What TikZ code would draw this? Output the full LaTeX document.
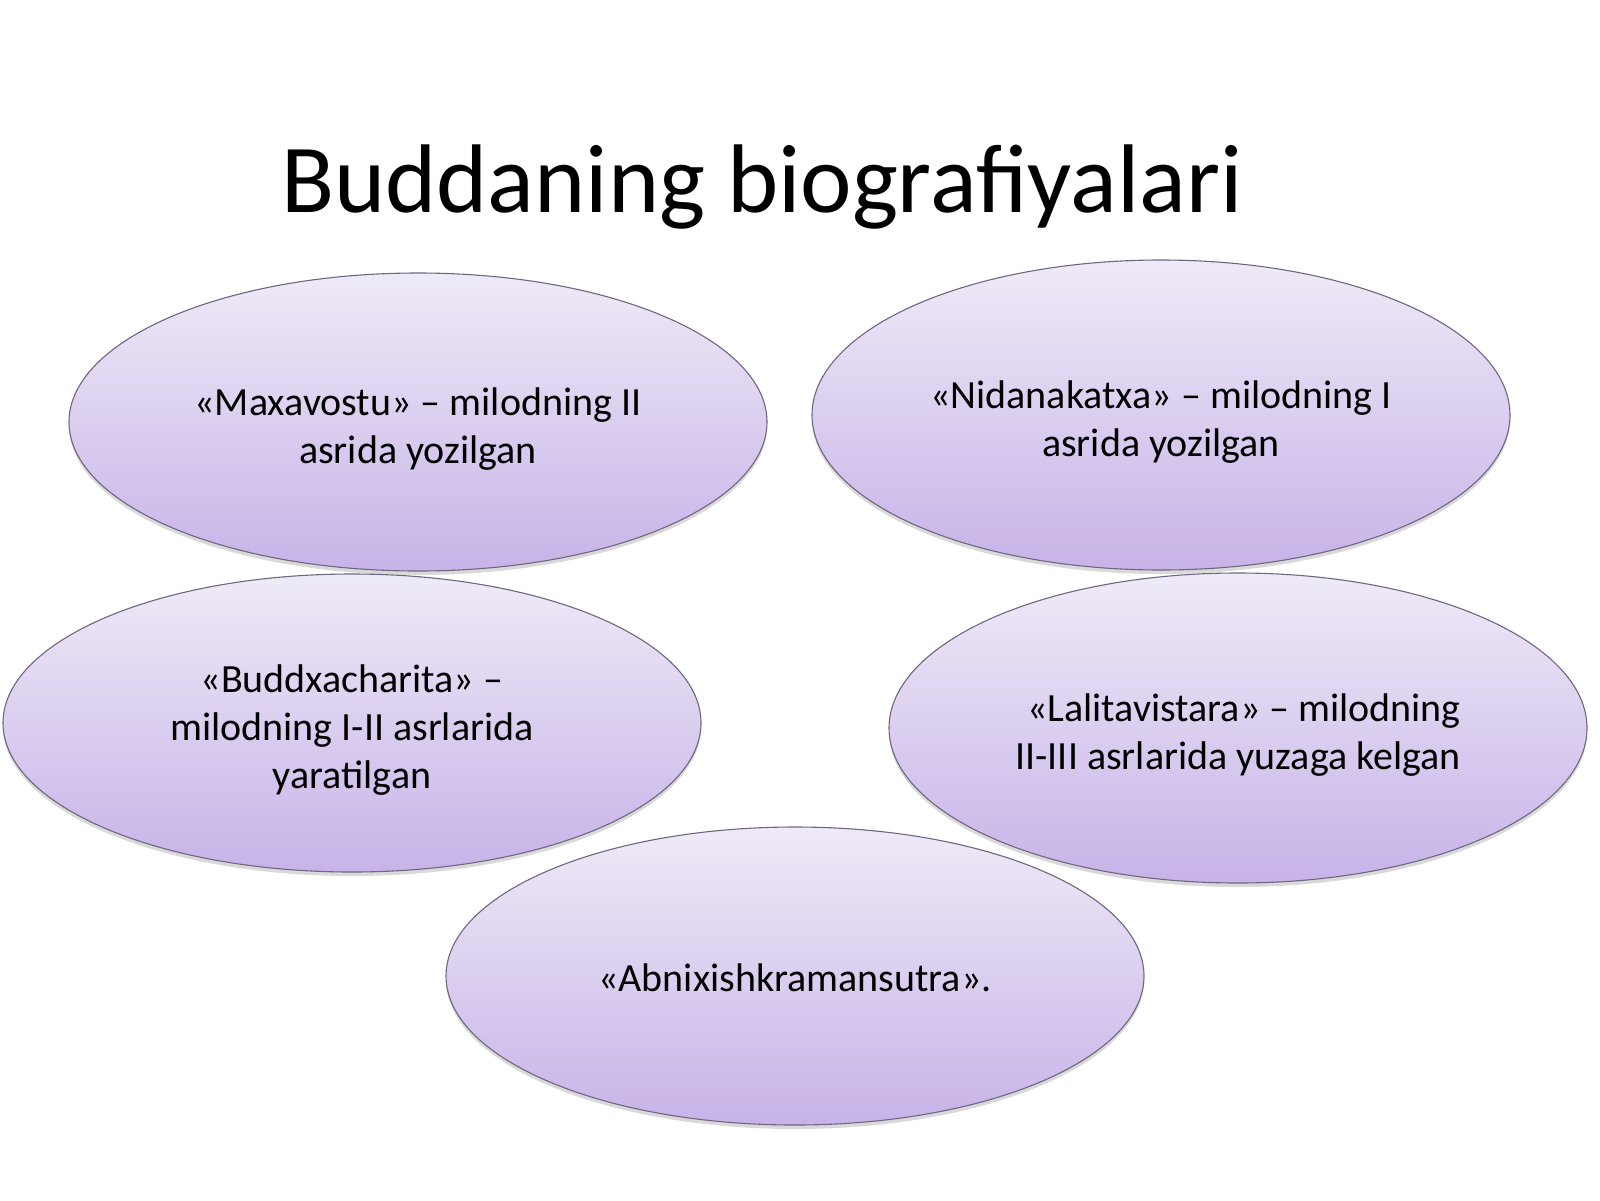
\documentclass[tikz,border=0pt]{standalone}
\usepackage{fontspec}
\setmainfont{Carlito}
\usepackage{tikz}
\usetikzlibrary{shapes.geometric}
\usetikzlibrary{shadows}
\definecolor{lilactop}{HTML}{EFEAF7}
\definecolor{lilacbot}{HTML}{C7B3E8}
\definecolor{lilacline}{HTML}{6F6680}
\begin{document}
\begin{tikzpicture}[x=1pt,y=-1pt]
% 1 = 1px of the slide
    \def\RX{698pt} %width of ellipses
    \def\RY{298pt} %
    \def\RYBIG{310pt} %right column is a bit taller
    \def\TXTDROP{-7pt} %text sits a little below the centre

    \tikzset{
      bubble/.style={ellipse, draw=lilacline, line width=1.1pt,
        top color=lilactop, bottom color=lilacbot,
        minimum width=\RX, minimum height=\RY, inner sep=0pt,
        drop shadow={shadow xshift=0pt, shadow yshift=-4pt,
          opacity=0.25, fill=black!60}},
      bubbletext/.style={align=center, inner sep=0pt,
        font=\fontsize{40}{48}\selectfont},
      headline/.style={anchor=base, font=\fontsize{97.5}{114}\selectfont},
    }

    \useasboundingbox (0,0) rectangle (1600,1200);

    % TITLE
    \node[headline] (title) at (762,212) {Buddaning biografiyalari};

    % LEFT COLUMN
    \node[bubble] (maxavostu) at (418,422) {};
    \node[bubbletext] (maxavostutxt) at ([yshift=\TXTDROP]maxavostu.center)
        {«Maxavostu» – milodning II\\asrida yozilgan};
    % RIGHT COLUMN
    \node[bubble, minimum height=\RYBIG] (nidana) at (1161,415) {};
    \node[bubbletext] (nidanatxt) at ([yshift=\TXTDROP]nidana.center)
        {«Nidanakatxa» – milodning I\\asrida yozilgan};

    \node[bubble] (buddx) at (352,723) {};
    \node[bubbletext] (buddxtxt) at ([yshift=\TXTDROP]buddx.center)
        {«Buddxacharita» –\\milodning I-II asrlarida\\yaratilgan};
    \node[bubble, minimum height=\RYBIG] (lalita) at (1238,728) {};
    \node[bubbletext] (lalitatxt) at ([yshift=\TXTDROP]lalita.center)
        {\hspace*{12pt}«Lalitavistara» – milodning\\II-III asrlarida yuzaga kelgan};

    % BOTTOM
    \node[bubble] (abnix) at (795,976) {};
    \node[bubbletext] (abnixtxt) at ([yshift=-2pt]abnix.center)
        {«Abnixishkramansutra».};

\end{tikzpicture}
\end{document}
